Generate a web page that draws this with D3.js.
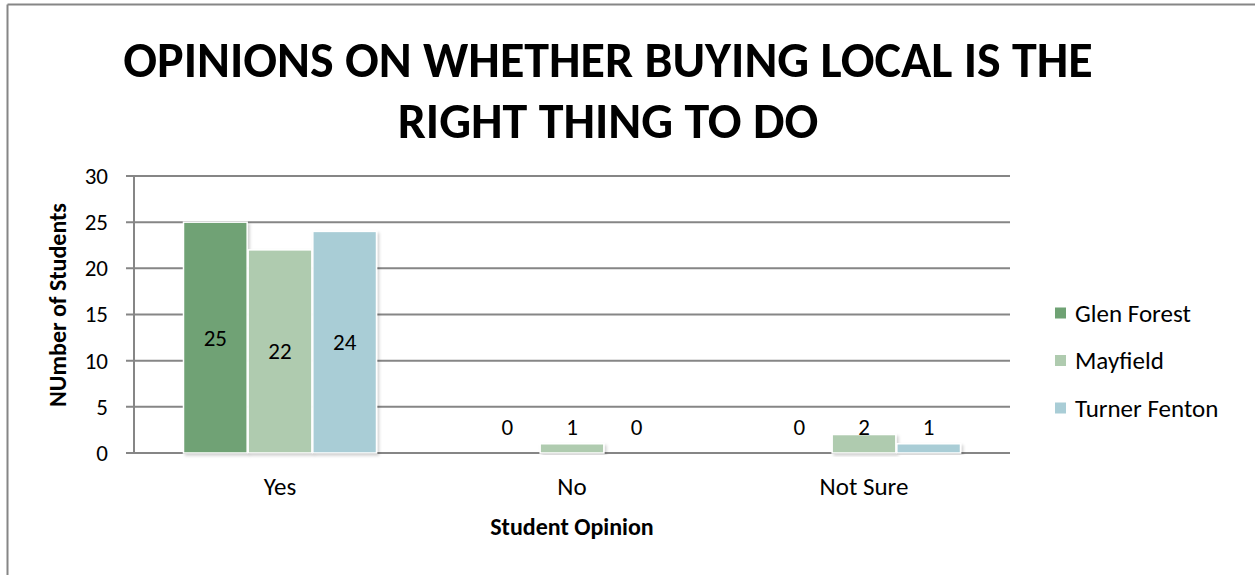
<!DOCTYPE html>
<html>
<head>
<meta charset="utf-8">
<script src="https://cdn.jsdelivr.net/npm/d3@7"></script>
<style>
  html, body { margin: 0; padding: 0; background: #fff; }
  svg { display: block; font-family: Carlito, Lato, "Open Sans", sans-serif; }
</style>
</head>
<body>
<svg id="chart" width="1255" height="575"></svg>
<script>
// Survey answers per school
const categories = ["Yes", "No", "Not Sure"];
const schools = ["Glen Forest", "Mayfield", "Turner Fenton"];
const glenForest = [25, 0, 0];
const mayfield = [22, 1, 2];
const turnerFenton = [24, 0, 1];
const yTicks = [0, 5, 10, 15, 20, 25, 30];
const colors = ["#6fa274", "#afcbaf", "#a9cdd6"];

const seriesValues = [glenForest, mayfield, turnerFenton];
const FONT = "Carlito, Lato, 'Open Sans', sans-serif";

const svg = d3.select("#chart");

// drop shadow for bars
const defs = svg.append("defs");
const f = defs.append("filter").attr("id", "shadow")
  .attr("x", "-10%").attr("y", "-10%").attr("width", "130%").attr("height", "130%");
f.append("feDropShadow").attr("dx", 2).attr("dy", 2).attr("stdDeviation", 1.5)
  .attr("flood-color", "#000").attr("flood-opacity", 0.18);

// outer frame
svg.append("line").attr("x1", 7.5).attr("x2", 1255).attr("y1", 4.5).attr("y2", 4.5)
  .attr("stroke", "#868686").attr("stroke-width", 2);
svg.append("line").attr("x1", 7.5).attr("x2", 7.5).attr("y1", 4.5).attr("y2", 575)
  .attr("stroke", "#868686").attr("stroke-width", 2);

const plot = { left: 134, right: 1010, top: 176, bottom: 453 };

const x0 = d3.scaleBand().domain(categories).range([plot.left, plot.right]).padding(0);
const groupWidth = 194;
const x1 = d3.scaleBand().domain(schools).range([0, groupWidth]).padding(0);
const y = d3.scaleLinear().domain([0, 30]).range([plot.bottom, plot.top]);

// gridlines
svg.append("g").selectAll("line").data(yTicks).join("line")
  .attr("x1", plot.left - 8).attr("x2", plot.right)
  .attr("y1", d => y(d)).attr("y2", d => y(d))
  .attr("stroke", "#868686").attr("stroke-width", 2);

// y axis line
svg.append("line").attr("x1", plot.left).attr("x2", plot.left)
  .attr("y1", plot.top).attr("y2", plot.bottom)
  .attr("stroke", "#868686").attr("stroke-width", 2);

// y tick labels
const yAxis = d3.axisLeft(y).tickValues(yTicks).tickSize(0).tickPadding(26);
const yg = svg.append("g").attr("transform", `translate(${plot.left},0)`).call(yAxis);
yg.select(".domain").remove();
yg.selectAll("text").attr("font-size", 23).attr("fill", "#000").attr("font-family", FONT);

// x tick labels
const xAxis = d3.axisBottom(x0).tickSize(0).tickPadding(24);
const xg = svg.append("g").attr("transform", `translate(0,${plot.bottom})`).call(xAxis);
xg.select(".domain").remove();
xg.selectAll("text").attr("font-size", 25).attr("fill", "#000").attr("font-family", FONT);

// bars
const groups = svg.append("g").selectAll("g").data(categories).join("g")
  .attr("transform", d => `translate(${x0(d) + (x0.bandwidth() - groupWidth) / 2},0)`);

const cells = groups.selectAll("g").data((c, ci) => schools.map((s, si) => ({
  school: s, si, value: seriesValues[si][ci]
}))).join("g");

cells.filter(d => d.value > 0).append("rect")
  .attr("x", d => x1(d.school) + 0.5)
  .attr("width", x1.bandwidth() - 1)
  .attr("y", d => y(d.value))
  .attr("height", d => y(0) - y(d.value))
  .attr("fill", d => colors[d.si])
  .attr("stroke", "#fff").attr("stroke-width", 1.5)
  .attr("filter", "url(#shadow)");

// value labels
cells.append("text")
  .attr("x", d => x1(d.school) + x1.bandwidth() / 2)
  .attr("y", d => Math.min((y(d.value) + y(0)) / 2, y(0) - 26))
  .attr("dy", "0.35em")
  .attr("text-anchor", "middle")
  .attr("font-size", 23)
  .attr("fill", "#000")
  .text(d => d.value);

// axis titles
svg.append("text").attr("x", (plot.left + plot.right) / 2).attr("y", 527)
  .attr("dy", "0.35em").attr("text-anchor", "middle")
  .attr("font-size", 24).attr("font-weight", "bold").text("Student Opinion");

svg.append("text").attr("transform", `translate(58,305) rotate(-90)`)
  .attr("dy", "0.35em").attr("text-anchor", "middle")
  .attr("font-size", 24).attr("font-weight", "bold").text("NUmber of Students");

// legend
const legend = svg.append("g").selectAll("g").data(schools).join("g")
  .attr("transform", (d, i) => `translate(1055,${313 + i * 47.5})`);
legend.append("rect").attr("x", 0).attr("y", -5.5).attr("width", 11).attr("height", 11)
  .attr("fill", (d, i) => colors[i]);
legend.append("text").attr("x", 20).attr("dy", "0.35em")
  .attr("font-size", 25).text(d => d);

// title
const titleLines = ["OPINIONS ON WHETHER BUYING LOCAL IS THE", "RIGHT THING TO DO"];
svg.append("g").selectAll("text").data(titleLines).join("text")
  .attr("x", 608).attr("y", (d, i) => 59 + i * 61)
  .attr("dy", "0.35em").attr("text-anchor", "middle")
  .attr("font-size", 50).attr("font-weight", "bold").text(d => d);
</script>
</body>
</html>
